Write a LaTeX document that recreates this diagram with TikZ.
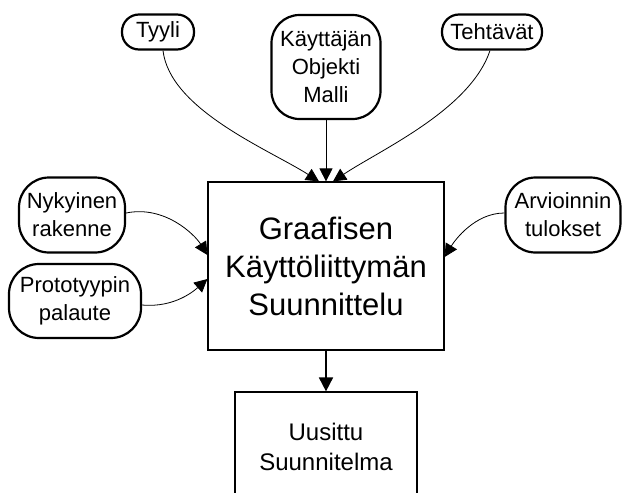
\documentclass[tikz,border=0pt]{standalone}
\usepackage{fontspec}
\setmainfont{Liberation Sans}
\usetikzlibrary{arrows.meta}

\begin{document}
\begin{tikzpicture}[x=1pt, y=-1pt,
  src/.style={draw, line width=2.2pt, rounded corners=17pt, align=center, inner sep=0pt,
    font=\fontsize{22}{28}\selectfont},
  box/.style={draw, line width=1.2pt, align=center, inner sep=0pt},
  flow/.style={-{Triangle[length=13pt, width=13pt]}, line width=0.8pt}]
  \useasboundingbox (0,0) rectangle (622,493);
  \clip (0,0) rectangle (622,493);
  % inputs on top
  \node[src, minimum width=72pt, minimum height=35pt] (tyyli) at (158,32) {Tyyli};
  \node[src, minimum width=109pt, minimum height=104pt, rounded corners=28pt] (kom) at (326,67)
    {Käyttäjän\\Objekti\\Malli};
  \node[src, minimum width=100pt, minimum height=35pt] (teht) at (492,32) {Tehtävät};
  % inputs on the sides
  \node[src, minimum width=106pt, minimum height=75pt, rounded corners=30pt] (nyk) at (72,215)
    {Nykyinen\\rakenne};
  \node[src, minimum width=132pt, minimum height=74pt, rounded corners=30pt] (proto) at (75,301)
    {Prototyypin\\palaute};
  \node[src, minimum width=115pt, minimum height=75pt, rounded corners=30pt] (arv) at (563,215)
    {Arvioinnin\\tulokset};
  % design and result
  \node[box, minimum width=236pt, minimum height=168pt, font=\fontsize{31}{38}\selectfont]
    (gks) at (326,266) {Graafisen\\Käyttöliittymän\\Suunnittelu};
  \node[box, minimum width=182pt, minimum height=110pt, font=\fontsize{24}{30}\selectfont]
    (uus) at (326,447) {Uusittu\\Suunnitelma};

  \draw[flow] ([xshift=5pt]tyyli.south) .. controls (170,110) and (270,150) .. ([xshift=-7pt]gks.north);
  \draw[flow] (kom.south) -- (gks.north);
  \draw[flow] ([xshift=-2pt]teht.south) .. controls (470,110) and (380,150) .. ([xshift=7pt]gks.north);
  \draw[flow] ([yshift=2pt]nyk.east) .. controls (165,205) and (195,235) .. ([yshift=11pt]gks.west);
  \draw[flow] ([yshift=-4pt]proto.east) .. controls (175,308) and (195,290) .. ([yshift=-13pt]gks.west);
  \draw[flow] ([yshift=2pt]arv.west) .. controls (475,213) and (455,240) .. ([yshift=9pt]gks.east);
  \draw[flow, line width=1.8pt, -{Triangle[length=14pt, width=14pt]}] (gks.south) -- (uus.north);
\end{tikzpicture}
\end{document}
